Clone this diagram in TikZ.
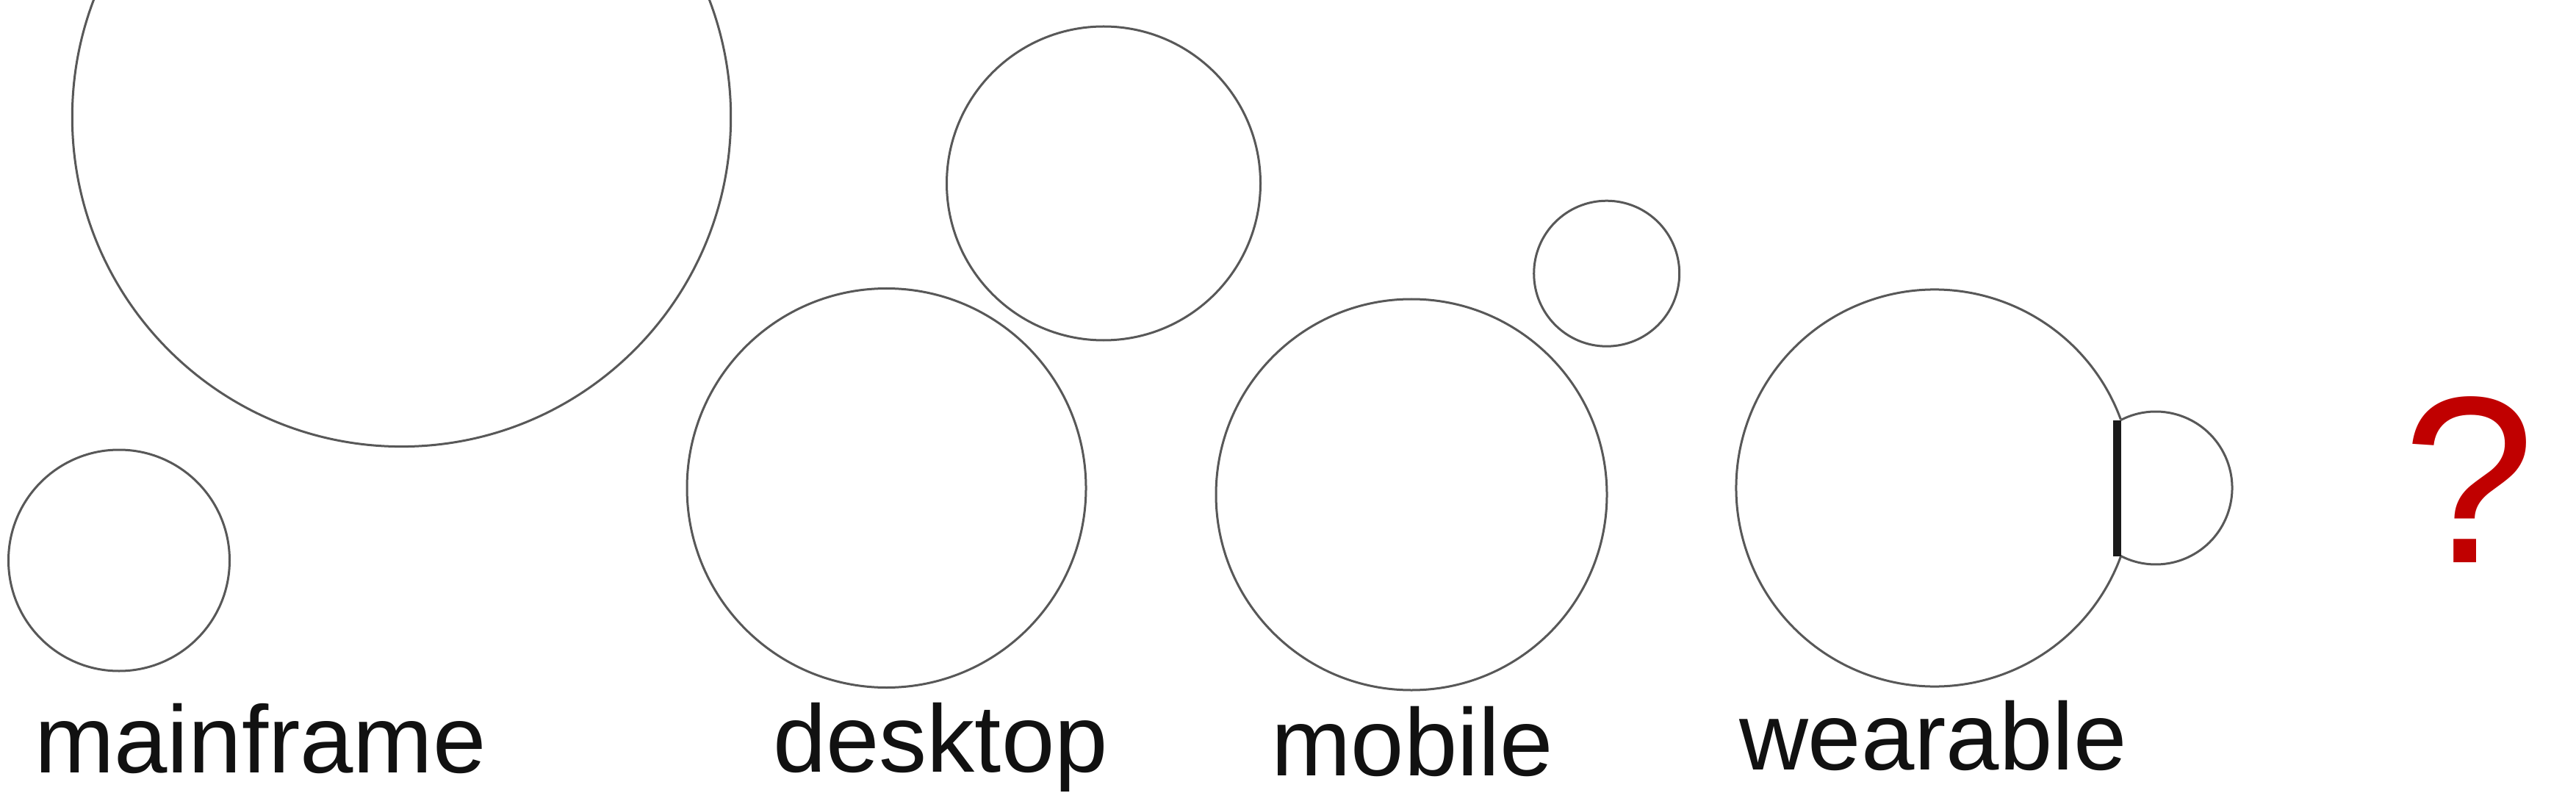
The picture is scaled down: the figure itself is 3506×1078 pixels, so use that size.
\documentclass[tikz,border=0pt]{standalone}
\usepackage{fontspec}
\setmainfont{Liberation Sans}
\definecolor{ringgray}{RGB}{88,88,88}
\definecolor{chordblack}{RGB}{26,26,26}
\definecolor{labelblack}{RGB}{17,17,17}
\definecolor{qred}{RGB}{192,0,0}
\begin{document}
\begin{tikzpicture}[x=0.01cm,y=0.01cm,
  ring/.style={draw=ringgray, line width=0.03cm},
  chordline/.style={draw=chordblack, line width=0.11cm},
  lbl/.style={text=labelblack, font=\fontsize{37}{44}\selectfont, anchor=base, inner sep=0pt},
  qmark/.style={text=qred, font=\fontsize{92}{100}\selectfont, anchor=base, inner sep=0pt}]
\clip (0,0) rectangle (3506,1078);
\fill[white] (0,0) rectangle (3506,1078);
% centres
\coordinate (mfbig) at (546.5,918.6);
\coordinate (mfsmall) at (162,315.5);
\coordinate (dktop) at (1502,828.5);
\coordinate (dkbig) at (1206.5,414);
\coordinate (mbbig) at (1921,405);
\coordinate (mbsmall) at (2186.7,705.8);
\coordinate (wrbig) at (2633,414);
\coordinate (wrsmall) at (2934,414);
\coordinate (j1) at (2881,321.5);
\coordinate (j2) at (2881,506.5);
% mainframe
\draw[ring] (mfbig) circle[radius=448.2];
\draw[ring] (mfsmall) circle[radius=150.5];
% desktop
\draw[ring] (dktop) circle[radius=213.5];
\draw[ring] (dkbig) circle[radius=271.5];
% mobile
\draw[ring] (mbbig) circle[radius=266];
\draw[ring] (mbsmall) circle[radius=99];
% wearable
\draw[ring] (wrbig) ++(20.1:270) arc[start angle=20.1,end angle=339.9,radius=270];
\draw[ring] (wrsmall) ++(117.1:104) arc[start angle=117.1,end angle=-117.1,radius=104];
\draw[chordline] (j1) -- (j2);
% labels
\node[lbl] (mainframe) at (354.5,27) {mainframe};
\node[lbl] (desktop) at (1280,28) {desktop};
\node[lbl] (mobile) at (1922,23) {mobile};
\node[lbl] (wearable) at (2631,31) {wearable};
\node[qmark] (question) at (3360,313) {?};
\end{tikzpicture}
\end{document}
